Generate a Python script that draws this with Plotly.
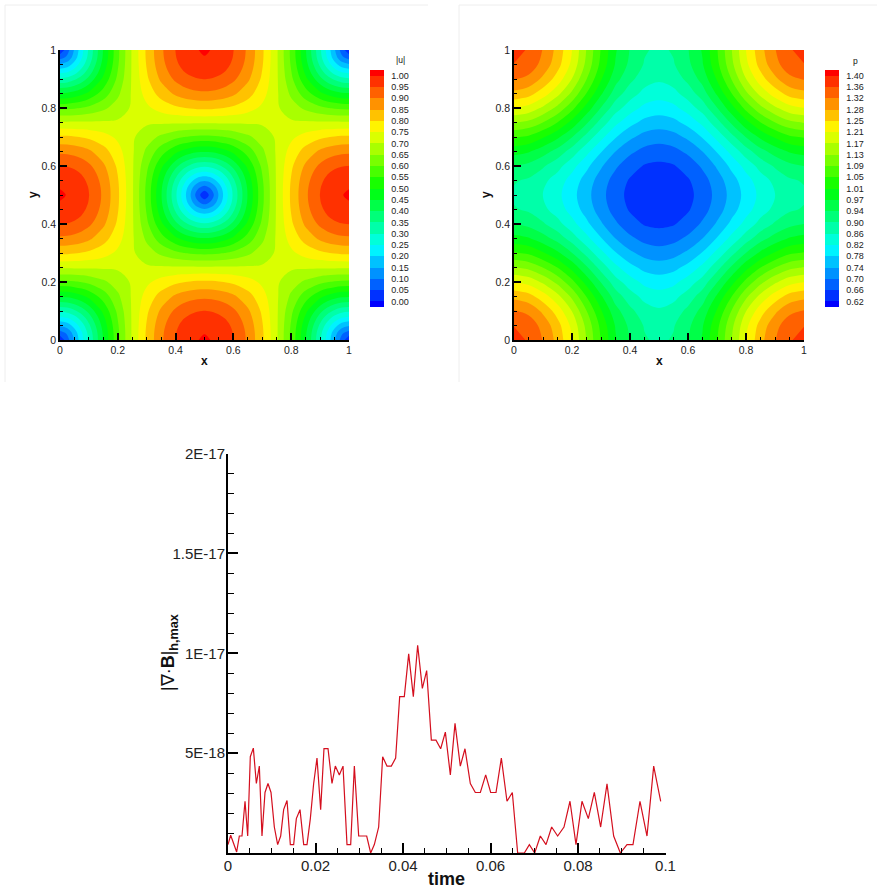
import numpy as np
import plotly.graph_objects as go
W, H = 877, 889

# grid coordinates of one quadrant; the fields repeat mirrored about 0.5
u_grid_half = [0, .025, .05, .075, .10, .15, .20, .25, .30, .35, .40, .425, .45, .475, .50]
p_grid_half = [0, .05, .10, .15, .20, .25, .30, .35, .40, .45, .50]

u_quadrant = [
 [.01,.077,.156,.233,.309,.454,.588,.707,.809,.891,.951,.972,.988,.997,1.012],
 [.077,.110,.173,.245,.317,.458,.589,.707,.808,.889,.948,.970,.985,.994,.997],
 [.156,.173,.219,.277,.340,.470,.594,.707,.804,.883,.941,.961,.976,.985,.988],
 [.233,.245,.277,.321,.373,.488,.602,.707,.798,.873,.928,.947,.961,.970,.972],
 [.309,.317,.340,.373,.415,.512,.612,.707,.791,.859,.910,.928,.940,.948,.951],
 [.454,.458,.470,.488,.512,.572,.640,.707,.769,.820,.859,.873,.883,.889,.891],
 [.588,.589,.594,.602,.612,.640,.673,.707,.740,.769,.791,.798,.804,.808,.809],
 [.707,.707,.707,.707,.707,.707,.707,.707,.707,.707,.707,.707,.707,.707,.707],
 [.809,.808,.804,.798,.791,.769,.740,.707,.673,.640,.612,.602,.594,.589,.588],
 [.891,.889,.883,.873,.859,.820,.769,.707,.640,.572,.512,.488,.470,.458,.454],
 [.951,.948,.941,.928,.910,.859,.791,.707,.612,.512,.415,.373,.340,.317,.309],
 [.972,.970,.961,.947,.928,.873,.798,.707,.602,.488,.373,.321,.277,.245,.233],
 [.988,.985,.976,.961,.940,.883,.804,.707,.594,.470,.340,.277,.219,.173,.156],
 [.997,.994,.985,.970,.948,.889,.808,.707,.589,.458,.317,.245,.173,.110,.077],
 [1.012,.997,.988,.972,.951,.891,.809,.707,.588,.454,.309,.233,.156,.077,.01],
]
p_quadrant = [
 [1.372,1.358,1.320,1.270,1.205,1.125,1.046,.975,.930,.897,.885],
 [1.360,1.346,1.309,1.259,1.195,1.116,1.038,.968,.923,.890,.879],
 [1.325,1.312,1.275,1.227,1.165,1.089,1.014,.946,.903,.872,.860],
 [1.272,1.259,1.224,1.178,1.119,1.048,.977,.913,.872,.842,.832],
 [1.204,1.191,1.159,1.116,1.061,.995,.930,.871,.833,.805,.796],
 [1.129,1.117,1.087,1.048,.997,.938,.878,.825,.789,.764,.756],
 [1.053,1.042,1.014,.979,.933,.880,.826,.779,.745,.723,.715],
 [.985,.975,.949,.917,.875,.827,.779,.737,.706,.686,.679],
 [.932,.921,.898,.868,.829,.786,.742,.704,.675,.656,.651],
 [.897,.887,.864,.836,.799,.759,.718,.682,.655,.638,.632],
 [.885,.875,.853,.825,.789,.750,.710,.675,.648,.631,.626],
]
band_colors = ["#0000ff","#0031ff","#0061ff","#0092ff","#00c2ff","#00f3ff","#00ffda","#00ffa9",
 "#00ff79","#00ff48","#00ff18","#18ff00","#48ff00","#79ff00","#a9ff00","#daff00","#fff300",
 "#ffc200","#ff9200","#ff6100","#ff3100","#ff0000"]

# divergence history
time_e3 = [0,.61,1.98,2.59,3.20,3.89,4.50,5.10,5.79,6.48,7.16,7.77,8.46,9.14,9.83,10.59,11.35,12.04,12.72,13.49,
 14.25,15.01,15.62,16.46,17.30,18.06,18.82,19.58,20.34,21.18,21.94,22.86,23.77,24.53,25.45,26.29,27.20,28.04,28.88,
 29.87,30.78,31.70,32.61,33.45,34.44,35.35,36.34,37.33,38.32,39.24,40.30,41.30,42.36,43.35,44.42,45.41,46.48,47.54,
 48.61,49.68,50.82,51.89,53.10,54.17,55.39,56.53,57.68,58.90,60.04,61.26,62.48,63.77,64.99,66.21,67.73,68.88,70.10,
 71.39,72.69,73.98,75.35,76.80,78.17,79.54,80.91,82.36,83.73,85.18,86.63,88.15,89.68,91.2,92.57,94.17,95.77,97.3,98.9]
div_e18 = [.42,.89,.05,.85,.85,2.59,.85,4.82,5.25,3.48,4.35,.85,3.03,3.48,3.03,1.30,.42,.85,2.17,2.63,
 .42,.42,1.72,2.17,.42,.42,1.72,3.48,4.75,2.17,5.23,5.23,3.48,4.35,3.91,4.35,.42,.42,4.35,
 .85,.85,.85,0,.42,1.30,4.82,4.35,4.35,4.75,7.83,7.83,9.97,7.83,10.4,8.24,9.13,5.65,5.65,
 5.22,6.05,3.91,6.49,4.35,5.22,3.48,3.03,3.03,3.91,3.03,3.03,4.75,2.59,3.03,0,0,.42,0,
 .85,.42,1.30,.85,1.30,2.59,.42,2.59,1.72,3.03,1.30,3.46,.85,0,.42,.42,2.59,.85,4.35,2.59]

u_ticks = ["0.00","0.05","0.10","0.15","0.20","0.25","0.30","0.35","0.40","0.45","0.50","0.55","0.60","0.65","0.70",
           "0.75","0.80","0.85","0.90","0.95","1.00"]
p_ticks = ["0.62","0.66","0.70","0.74","0.78","0.82","0.86","0.90","0.94","0.97","1.01","1.05","1.09","1.13","1.17",
           "1.21","1.25","1.28","1.32","1.36","1.40"]
unit_ticks = [0, .2, .4, .6, .8, 1]
unit_labels = ["0", "0.2", "0.4", "0.6", "0.8", "1"]
time_ticks = [0, .02, .04, .06, .08, .1]
time_labels = ["0", "0.02", "0.04", "0.06", "0.08", "0.1"]
div_ticks = [5e-18, 1e-17, 1.5e-17, 2e-17]
div_labels = ["5E-18", "1E-17", "1.5E-17", "2E-17"]

def mirrored(q):
    a = np.array(q)
    a = np.hstack([a, a[:, -2::-1]])
    return np.vstack([a, a[-2::-1, :]])

def full_coords(half):
    return list(half) + [1 - g for g in half[-2::-1]]

def band_scale(colors):
    # plotly's filled bands sample the scale at evenly spaced points from the band below the
    # first level to the band above the last one
    n = len(colors) - 1
    return [[k / n, c] for k, c in enumerate(colors)]

FONT = "Liberation Sans"
def fx(v): return v / W
def fy(v): return 1 - v / H

def field(z, half, start, size, ticks, xa, ya, bar_left):
    lv = [start + size * i for i in range(len(ticks))]
    c = full_coords(half)
    return go.Contour(
        x=c, y=c, z=mirrored(z), xaxis=xa, yaxis=ya,
        autocontour=False,
        contours=dict(start=start, end=lv[-1], size=size, coloring="fill", showlines=False),
        line=dict(width=0, smoothing=1),
        colorscale=band_scale(band_colors), showscale=True,
        colorbar=dict(x=fx(bar_left), xanchor="left", xpad=0, thickness=14, thicknessmode="pixels",
                      y=fy(307), yanchor="bottom", ypad=0, len=237, lenmode="pixels",
                      tickmode="array", tickvals=lv, ticktext=ticks, ticks="outside", ticklen=6,
                      tickcolor="rgba(0,0,0,0)", tickfont=dict(family=FONT, size=9, color="#222"),
                      outlinewidth=0),
        hoverinfo="skip")

fig = go.Figure()
fig.add_trace(field(u_quadrant, u_grid_half, 0.0, 0.05, u_ticks, "x", "y", 370))
fig.add_trace(field(p_quadrant, p_grid_half, 0.62, 0.039, p_ticks, "x2", "y2", 824.5))
fig.add_trace(go.Scatter(x=np.array(time_e3) * 1e-3, y=np.array(div_e18) * 1e-18, mode="lines",
                         line=dict(color="#d40f1e", width=1.2), xaxis="x3", yaxis="y3",
                         showlegend=False, hoverinfo="skip", cliponaxis=True))

def small_axis(domain, anchor, vals, labels):
    return dict(domain=domain, anchor=anchor, range=[0, 1], tickmode="array", tickvals=vals, ticktext=labels,
                ticks="inside", ticklen=7, tickwidth=1.5, tickcolor="#000", showgrid=False, zeroline=False,
                showline=True, linecolor="#000", linewidth=1.5, tickangle=0,
                tickfont=dict(family=FONT, size=10.5, color="#222"),
                minor=dict(tickmode="linear", tick0=0, dtick=.05, ticks="inside", ticklen=3, tickwidth=.8,
                           tickcolor="#000", showgrid=False))

big_common = dict(ticks="inside", ticklen=10, tickwidth=2, tickcolor="#000", showgrid=False, zeroline=False,
                  showline=True, linecolor="#000", linewidth=2, tickangle=0, tickmode="array",
                  ticklabelstandoff=-2, tickfont=dict(family=FONT, size=15, color="#222"))

fig.update_layout(
    width=W, height=H, autosize=False, margin=dict(l=0, r=0, t=0, b=0, autoexpand=False),
    paper_bgcolor="white", plot_bgcolor="white", showlegend=False,
    xaxis=small_axis([fx(60), fx(349)], "y", unit_ticks, unit_labels),
    yaxis=small_axis([fy(340), fy(50)], "x", unit_ticks, unit_labels),
    xaxis2=small_axis([fx(514), fx(804)], "y2", unit_ticks, unit_labels),
    yaxis2=small_axis([fy(340), fy(50)], "x2", unit_ticks, unit_labels),
    xaxis3=dict(domain=[fx(228), fx(665.5)], anchor="y3", range=[0, .1], tickvals=time_ticks, ticktext=time_labels,
                minor=dict(tickmode="linear", tick0=0, dtick=.005, ticks="inside", ticklen=5.5, tickwidth=1,
                           tickcolor="#000", showgrid=False), **big_common),
    yaxis3=dict(domain=[fy(853), fy(453.5)], anchor="x3", range=[0, 2e-17], tickvals=div_ticks, ticktext=div_labels,
                minor=dict(tickmode="linear", tick0=0, dtick=1e-18, ticks="inside", ticklen=5.5, tickwidth=1,
                           tickcolor="#000", showgrid=False), **big_common),
)

def label(text, x, y, size, angle=0):
    fig.add_annotation(text=text, x=fx(x), y=fy(y), xref="paper", yref="paper", showarrow=False, textangle=angle,
                       xanchor="center", yanchor="middle", font=dict(family=FONT, size=size, color="#111"))

label("<b>x</b>", 204.5, 361, 12)
label("<b>y</b>", 33, 195, 12, -90)
label("<b>x</b>", 659, 361, 12)
label("<b>y</b>", 486, 195, 12, -90)
label("<b>time</b>", 447, 879, 18)
label("|∇·<b>B</b>|<sub><b>h,max</b></sub>", 169, 653, 18, -90)
label("|u|", 400, 60, 8.5)
label("p", 855, 61, 8.5)

# faint page frame lines around the two upper panels
for x0, y0, x1, y1 in [(5, 5, 428, 5), (5, 5, 5, 382), (459, 5, 877, 5), (459, 5, 459, 382)]:
    fig.add_shape(type="line", xref="paper", yref="paper", x0=fx(x0), y0=fy(y0), x1=fx(x1), y1=fy(y1),
                  line=dict(color="#eeeeee", width=1))

fig.write_html("out.html", config={"displayModeBar": False},
               post_script="document.body.style.margin='0';document.documentElement.style.overflow='hidden';")
